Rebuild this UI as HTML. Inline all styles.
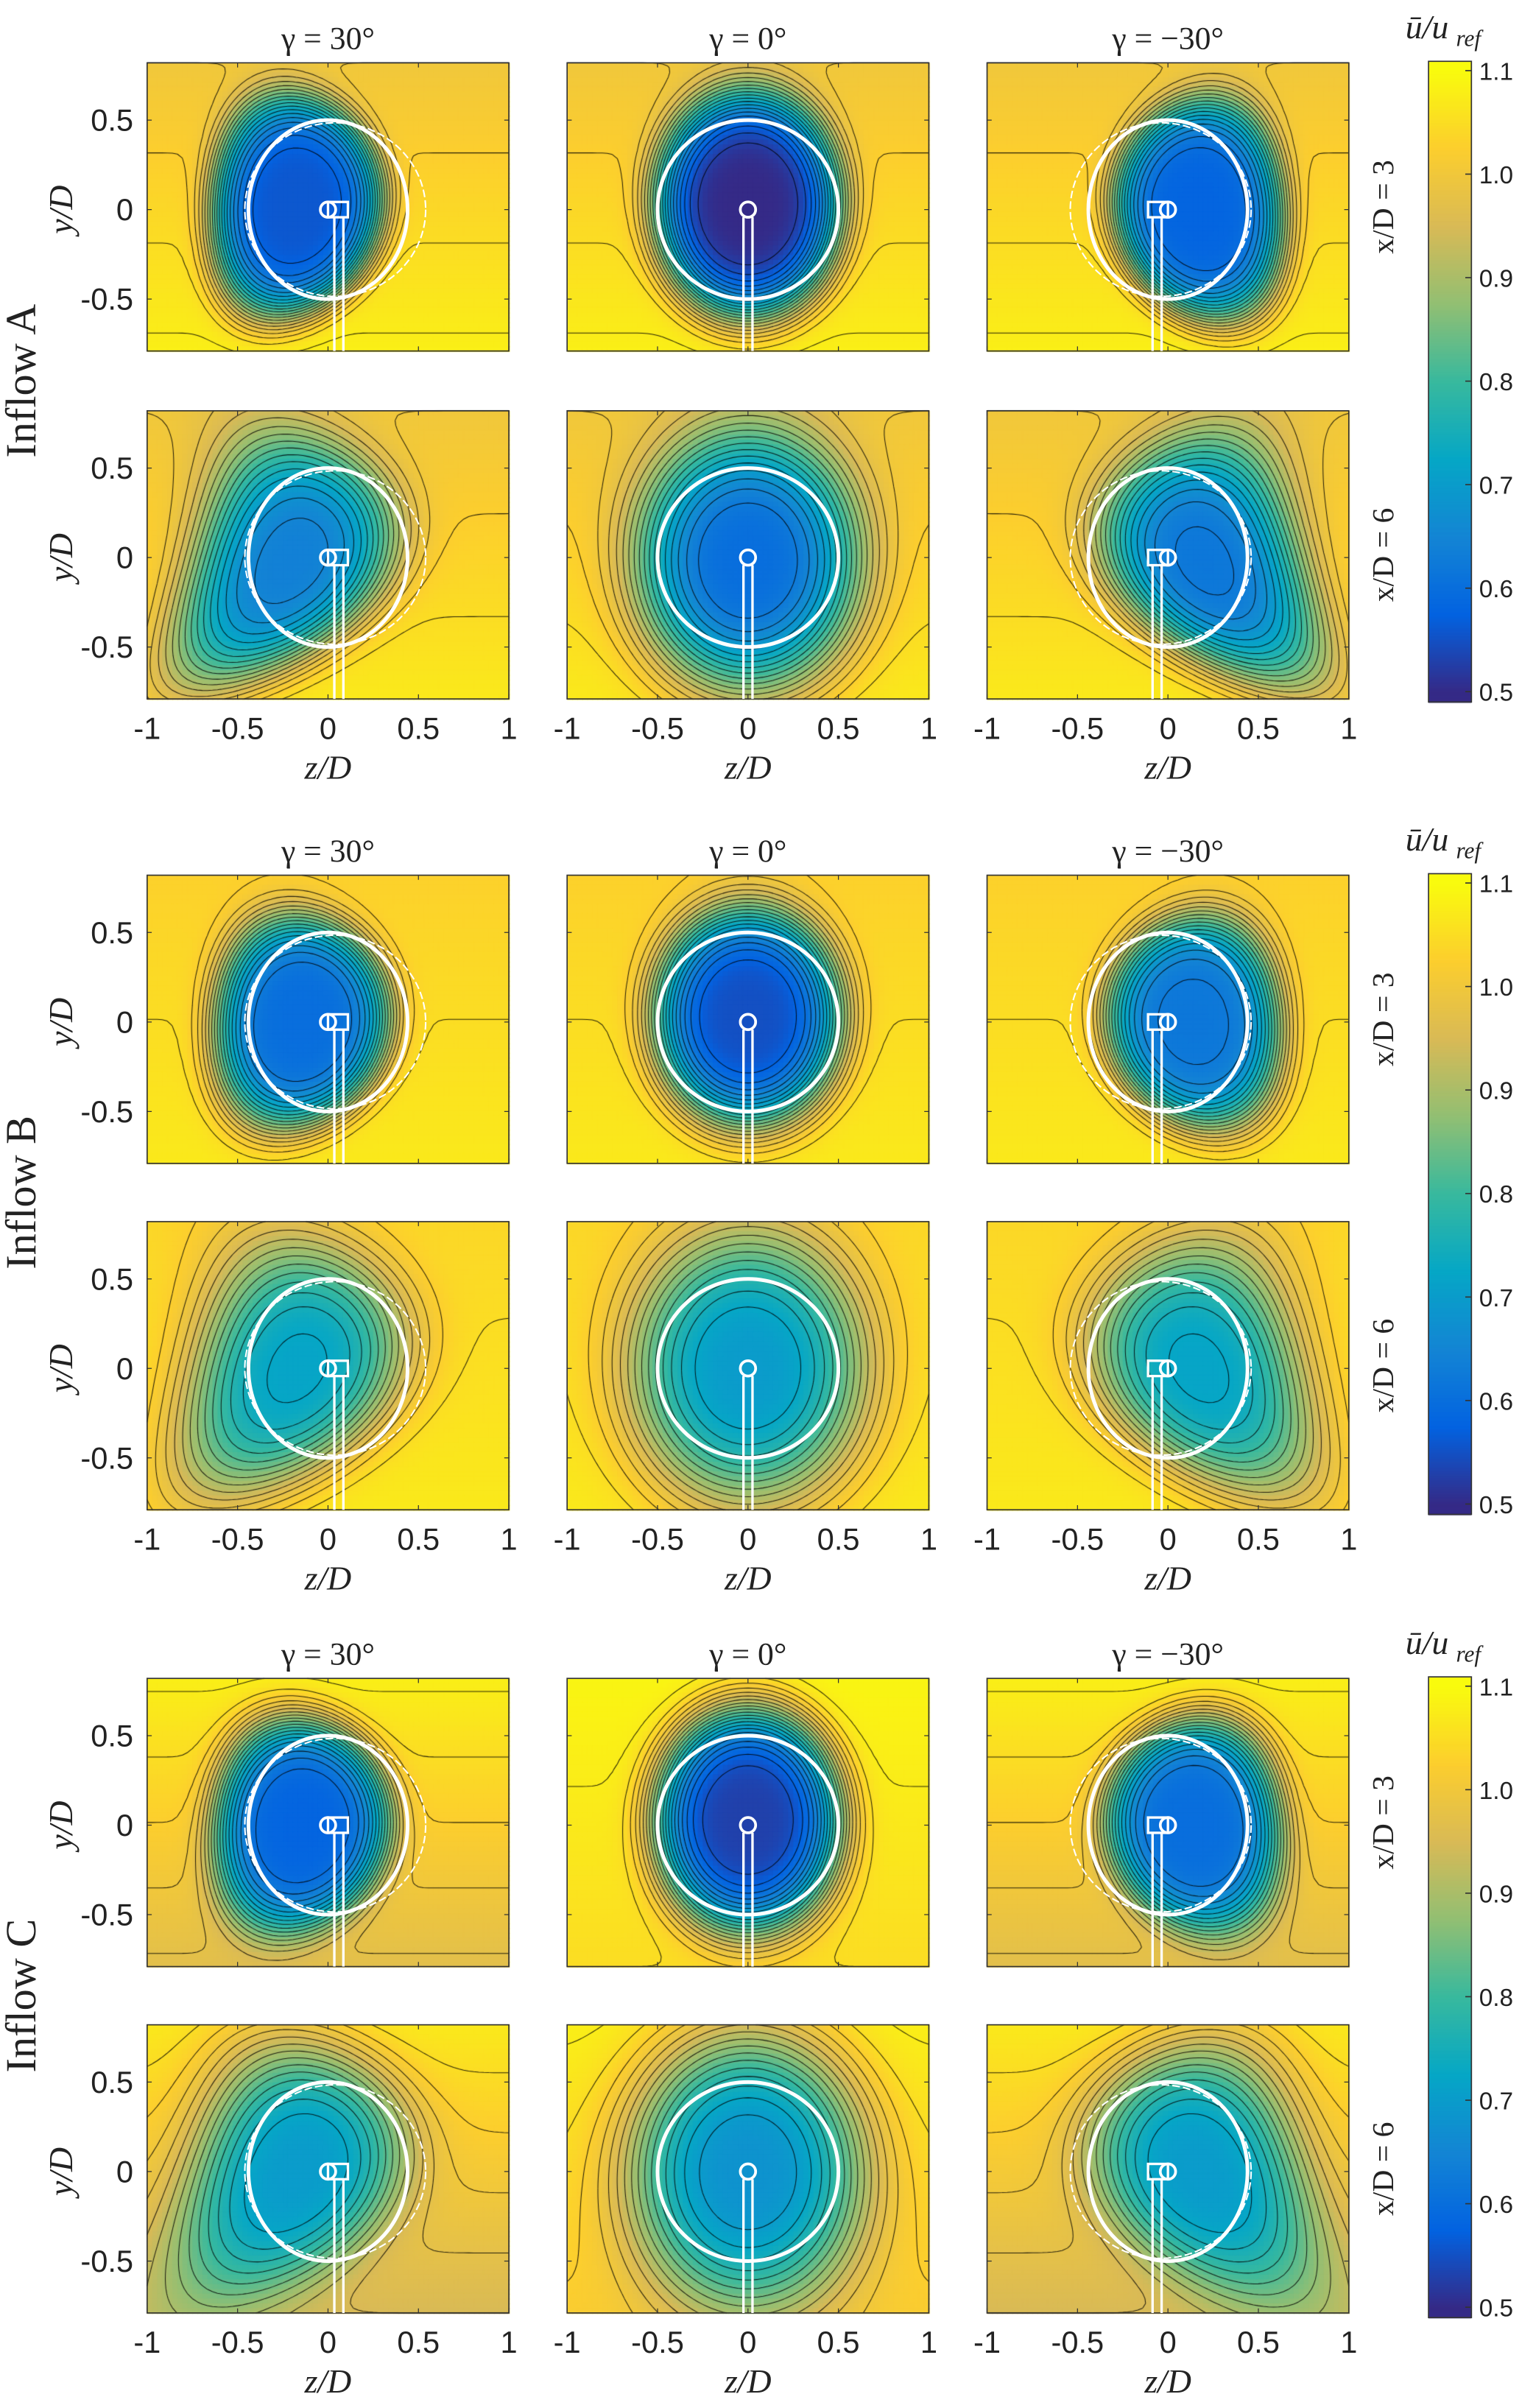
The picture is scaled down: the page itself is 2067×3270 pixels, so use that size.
<!DOCTYPE html>
<html><head><meta charset="utf-8"><style>
html,body{margin:0;padding:0;background:#fff}
#wrap{position:relative;width:2067px;height:3270px}
canvas,svg{position:absolute;left:0;top:0}
text{font-family:"Liberation Sans",sans-serif;fill:#222}
.serif{font-family:"Liberation Serif",serif}
</style></head><body>
<div id="wrap">
<canvas id="cv" width="2067" height="3270"></canvas>
<svg id="sv" width="2067" height="3270" viewBox="0 0 993 1571" preserveAspectRatio="none"></svg>
</div>
<script>
// panel order: rows A3,A6,B3,B6,C3,C6 ; columns gamma 30,0,-30
const inflows = ["A","B","C"];
const gammas = ["30°","0°","−30°"];
const gammaSign = [1,0,-1];
const wakeZ = [-0.17,0,0.17, -0.2,0,0.2, -0.14,0,0.14, -0.17,0,0.17, -0.14,0,0.14, -0.17,0,0.17];
const wakeY = [0.02,0.03,0, -0.02,-0.02,-0.02, 0,0.03,0, 0,0,0, 0,0.03,0, 0,0,0];
const wakeRZ = [0.5,0.55,0.5, 0.6,0.68,0.6, 0.52,0.56,0.52, 0.64,0.72,0.64, 0.52,0.56,0.52, 0.64,0.72,0.64];
const wakeRY = [0.66,0.68,0.66, 0.76,0.8,0.76, 0.64,0.66,0.64, 0.78,0.84,0.78, 0.64,0.68,0.64, 0.78,0.86,0.78];
const wakeMin = [0.56,0.5,0.58, 0.64,0.6,0.62, 0.6,0.55,0.62, 0.72,0.7,0.72, 0.58,0.53,0.6, 0.7,0.68,0.7];
const wakeSharp = [2.6,2.4,2.6, 1.7,1.7,1.7, 2.4,2.2,2.4, 1.6,1.6,1.6, 2.4,2.2,2.4, 1.6,1.6,1.6];
const wakeTilt = [0.05,0,-0.05, 0.3,0,-0.3, 0.05,0,-0.05, 0.25,0,-0.25, 0.05,0,-0.05, 0.25,0,-0.25];
const wakeCurve = [-0.2,0,0.2, -0.5,0,0.5, -0.2,0,0.2, -0.4,0,0.4, -0.2,0,0.2, -0.4,0,0.4];
const ambTop = [1.0,1.0,1.0, 1.0,1.0,1.0, 1.03,1.03,1.03, 1.04,1.04,1.04, 1.08,1.09,1.08, 1.07,1.08,1.07];
const ambBottom = [1.08,1.08,1.08, 1.07,1.07,1.07, 1.07,1.07,1.07, 1.07,1.07,1.07, 0.97,1.05,0.97, 0.95,1.02,0.95];
const cbTicks = [1.1,1.0,0.9,0.8,0.7,0.6,0.5];
const cbTickLabels = ["1.1","1.0","0.9","0.8","0.7","0.6","0.5"];
const zTicks = [-1,-0.5,0,0.5,1];
const zTickLabels = ["-1","-0.5","0","0.5","1"];
const yTicks = [0.5,0,-0.5];
const yTickLabels = ["0.5","0","-0.5"];

const colX=[96,370,644], PW=236, rowY=[41,268,571,797,1095,1321], PH=188;
const Y0=0.82,Y1=-0.79, VMIN=0.49, VMAX=1.109;
const cbX=932, cbW=28, cbTop=[40,570,1094], cbH=418;
const px=(c,z)=>colX[c]+(z+1)/2*PW;
const py=(r,y)=>rowY[r]+(Y0-y)/(Y0-Y1)*PH;
const parula=[[53,42,135],[3,99,225],[20,133,212],[6,167,198],[56,185,158],[146,191,115],[217,186,86],[252,206,46],[249,251,14]];
function cmap(v){let t=(v-0.5)/0.6;t=Math.max(0,Math.min(1,t))*8;const i=Math.min(7,Math.floor(t)),f=t-i;const a=parula[i],b=parula[i+1];return `rgb(${a.map((x,k)=>Math.round(x+(b[k]-x)*f)).join(',')})`;}
function field(p,z,y){
  const amb=ambBottom[p]+(ambTop[p]-ambBottom[p])*(y-Y1)/(Y0-Y1);
  const yy=y-wakeY[p];
  const zc=wakeZ[p]+wakeTilt[p]*yy+wakeCurve[p]*yy*yy;
  const d2=((z-zc)/wakeRZ[p])**2+(yy/wakeRY[p])**2;
  const w=Math.exp(-Math.pow(d2,wakeSharp[p])*1.3);
  return amb-(amb-wakeMin[p])*w;
}
const cv=document.getElementById('cv'),ctx=cv.getContext('2d');
ctx.scale(2067/993,3270/1571);
const NZ=72,NY=60;
for(let r=0;r<6;r++)for(let c=0;c<3;c++){
  const p=r*3+c;
  const G=[];
  for(let j=0;j<=NY;j++){G.push([]);for(let i=0;i<=NZ;i++){G[j].push(field(p,-1+2*i/NZ,Y0+(Y1-Y0)*j/NY));}}
  const cw=PW/NZ,ch=PH/NY;
  for(let j=0;j<NY;j++)for(let i=0;i<NZ;i++){
    const v=(G[j][i]+G[j][i+1]+G[j+1][i]+G[j+1][i+1])/4;
    ctx.fillStyle=cmap(v);
    ctx.fillRect(colX[c]+i*cw,rowY[r]+j*ch,cw+0.6,ch+0.6);
  }
  ctx.strokeStyle='rgba(0,0,0,0.85)';ctx.lineWidth=0.5;ctx.beginPath();
  for(let L=0.525;L<1.1;L+=0.025){
    for(let j=0;j<NY;j++)for(let i=0;i<NZ;i++){
      const a=G[j][i],b=G[j][i+1],cc=G[j+1][i+1],d=G[j+1][i];
      const x0=colX[c]+i*cw,y0=rowY[r]+j*ch;
      const pts=[];
      if((a<L)!=(b<L))pts.push([x0+cw*(L-a)/(b-a),y0]);
      if((b<L)!=(cc<L))pts.push([x0+cw,y0+ch*(L-b)/(cc-b)]);
      if((d<L)!=(cc<L))pts.push([x0+cw*(L-d)/(cc-d),y0+ch]);
      if((a<L)!=(d<L))pts.push([x0,y0+ch*(L-a)/(d-a)]);
      for(let k=0;k+1<pts.length;k+=2){ctx.moveTo(pts[k][0],pts[k][1]);ctx.lineTo(pts[k+1][0],pts[k+1][1]);}
    }
  }
  ctx.stroke();
}
for(let k=0;k<3;k++){
  for(let s=0;s<cbH;s++){const v=VMAX-(VMAX-VMIN)*s/cbH;ctx.fillStyle=cmap(v);ctx.fillRect(cbX,cbTop[k]+s,cbW,1.5);}
}
const NS='http://www.w3.org/2000/svg',sv=document.getElementById('sv');
function el(tag,attrs,txt){const e=document.createElementNS(NS,tag);for(const k in attrs)e.setAttribute(k,attrs[k]);if(txt!=null)e.textContent=txt;sv.appendChild(e);return e;}
for(let r=0;r<6;r++)for(let c=0;c<3;c++){
  const g=gammaSign[c];
  const fr=el('rect',{x:colX[c],y:rowY[r],width:PW,height:PH,fill:'none',stroke:'#333','stroke-width':0.8});
  
  
  const cx=px(c,0),cy=py(r,0),ry=py(r,-0.5)-cy;
  const rx=(g?0.44:0.5)*PW/2;
  if(g){const de=el('ellipse',{cx:px(c,0.04*g),cy:cy,rx:0.5*PW/2,ry:ry*0.97,fill:'none',stroke:'#fff','stroke-width':1,'stroke-dasharray':'5 2'});
    
    }
  const ro=el('ellipse',{cx:cx,cy:cy,rx:rx,ry:ry,fill:'none',stroke:'#fff','stroke-width':2.4});
  
  
  const tz=g?0.06*g:0, tw=0.025;
  const tw1=el('path',{d:`M${px(c,tz-tw)},${cy+5} V${rowY[r]+PH} M${px(c,tz+tw)},${cy+5} V${rowY[r]+PH}`,stroke:'#fff','stroke-width':1.6,fill:'none'});
  
  
  if(g){const nc=el('rect',{x:px(c,Math.min(0,0.11*g)),y:cy-5,width:0.11*PW/2,height:10,fill:'none',stroke:'#fff','stroke-width':1.6});
    
    }
  const hb=el('circle',{cx:cx,cy:cy,r:5,fill:'none',stroke:'#fff','stroke-width':1.8});
  
  
  for(const z of zTicks){const t=el('path',{d:`M${px(c,z)},${rowY[r]+PH} v-3 M${px(c,z)},${rowY[r]} v3`,stroke:'#333','stroke-width':0.6});}
  for(const y of yTicks){const t=el('path',{d:`M${colX[c]},${py(r,y)} h3 M${colX[c]+PW},${py(r,y)} h-3`,stroke:'#333','stroke-width':0.6});}
  if(c===0){
    yTicks.forEach((y,k)=>{const t=el('text',{x:87,y:py(r,y)+7,'font-size':20,'text-anchor':'end'},yTickLabels[k]);});
    const yl=el('text',{x:0,y:0,'font-size':22,'font-style':'italic','class':'serif','text-anchor':'middle',transform:`translate(47,${py(r,0)}) rotate(-90)`},'y/D');
    
    
  }
  if(r%2===1){
    zTicks.forEach((z,k)=>{const t=el('text',{x:px(c,z),y:rowY[r]+PH+26,'font-size':20,'text-anchor':'middle'},zTickLabels[k]);});
    const xl=el('text',{x:px(c,0),y:rowY[r]+PH+52,'font-size':22,'font-style':'italic','class':'serif','text-anchor':'middle'},'z/D');
    
    
  } else {
    const tt=el('text',{x:px(c,0),y:rowY[r]-9,'font-size':21,'class':'serif','text-anchor':'middle'},'γ = '+gammas[c]);
    
    
  }
}
for(let k=0;k<3;k++){
  const top=cbTop[k];
  const fr=el('rect',{x:cbX,y:top,width:cbW,height:cbH,fill:'none',stroke:'#333','stroke-width':0.8});
  
  
  cbTicks.forEach((v,i)=>{const yy=top+(VMAX-v)/(VMAX-VMIN)*cbH;
    const tk=el('path',{d:`M${cbX+cbW},${yy} h-4`,stroke:'#333','stroke-width':0.8});
    const t=el('text',{x:cbX+cbW+5,y:yy+6,'font-size':16},cbTickLabels[i]);});
  const h=el('text',{x:917,y:top-15,'font-size':22,'font-style':'italic','class':'serif'},'ū/u');
  
  
  const s=el('text',{x:950,y:top-10,'font-size':15,'font-style':'italic','class':'serif'},'ref');
  
  
  const r0=k*2;
  const l1=el('text',{x:0,y:0,'font-size':20,'class':'serif','text-anchor':'middle',transform:`translate(909,${rowY[r0]+PH/2}) rotate(-90)`},'x/D = 3');
  
  
  const l2=el('text',{x:0,y:0,'font-size':20,'class':'serif','text-anchor':'middle',transform:`translate(909,${rowY[r0+1]+PH/2}) rotate(-90)`},'x/D = 6');
  
  
  const il=el('text',{x:0,y:0,'font-size':28,'class':'serif','text-anchor':'middle',transform:`translate(23,${(rowY[r0]+rowY[r0+1]+PH)/2}) rotate(-90)`},'Inflow '+inflows[k]);
  
  
}
</script>
</body></html>
